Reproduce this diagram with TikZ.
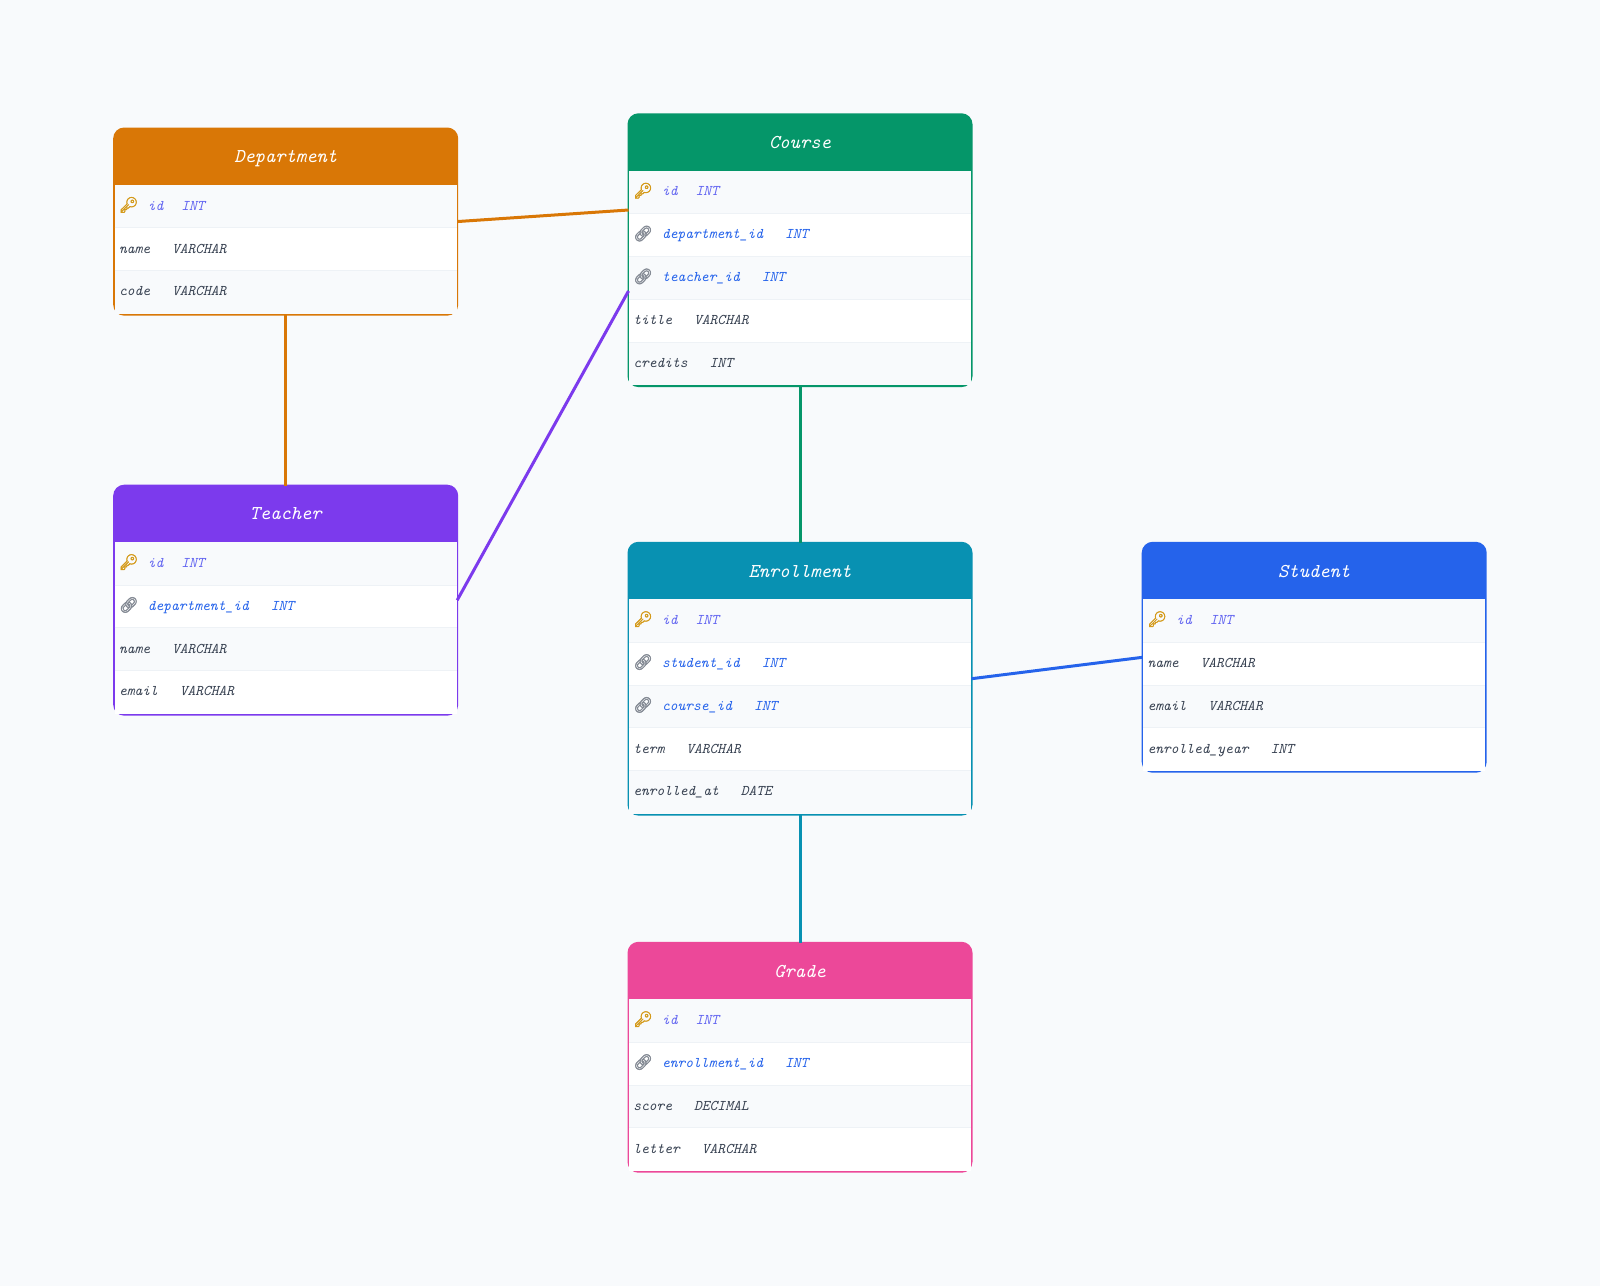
\documentclass[tikz,border=0pt]{standalone}
\usepackage{fontspec}
\usetikzlibrary{positioning}
\newfontfamily\emojifont[FakeBold=2.5]{Noto Emoji}
\definecolor{pagebg}{HTML}{F8FAFC}
\definecolor{rowtint}{HTML}{F8FAFC}
\definecolor{rowline}{HTML}{EEF2F6}
\definecolor{plaintext}{HTML}{374151}
\definecolor{pktext}{HTML}{6366F1}
\definecolor{fktext}{HTML}{2563EB}
\definecolor{keygold}{HTML}{D49A1A}
\definecolor{linkgrey}{HTML}{858B95}
\definecolor{deptcol}{HTML}{D97706}
\definecolor{coursecol}{HTML}{059669}
\definecolor{teachcol}{HTML}{7C3AED}
\definecolor{enrolcol}{HTML}{0891B2}
\definecolor{studcol}{HTML}{2563EB}
\definecolor{gradecol}{HTML}{EC4899}
\newcommand{\pkicon}{{\color{keygold}\fontsize{11.5}{13}\emojifont\symbol{"1F511}}\hspace{7pt}}
\newcommand{\fkicon}{{\color{linkgrey}\fontsize{11.5}{13}\emojifont\symbol{"1F517}}\hspace{7pt}}
\newcommand{\gap}{\hspace{16.5pt}}
\newcommand{\shortgap}{\hspace{13.5pt}}
\tikzset{
  tbl/.style={draw=#1, fill=#1, line width=1.5pt, rounded corners=7.5pt, anchor=north,
    minimum width=257.25pt, inner sep=0pt, outer sep=0pt},
  thead/.style={minimum width=256.5pt, minimum height=42.4pt, inner sep=0pt, outer sep=0pt,
    text=white, text height=10.5pt, text depth=1.5pt,
    font=\ttfamily\itshape\fontsize{14.7}{16}\selectfont\addfontfeature{FakeBold=1.2}},
  rowa/.style={fill=rowtint, minimum width=256.5pt, minimum height=32.15pt,
    text width=250pt, inner xsep=3.25pt, inner ysep=0pt, outer sep=0pt, align=left,
    text=plaintext, text height=8pt, text depth=2.5pt,
    font=\ttfamily\itshape\fontsize{11.1}{13}\selectfont\addfontfeature{FakeBold=0.2}},
  rowb/.style={rowa, fill=white},
  pk/.style={text=pktext},
  fk/.style={text=fktext},
  divider/.style={draw=rowline, line width=0.75pt},
  rel/.style={line width=2.25pt}
}
\begin{document}
\begin{tikzpicture}[x=0.75pt, y=-0.75pt]
  \path [use as bounding box, fill=pagebg] (0, 0) rectangle (1600, 1286);
  % department
  \node (department) [tbl=deptcol, minimum height=139.6pt] at (285.7, 128.5) {};
  \node (department-head) [thead, below=0pt of department.north] {Department};
  \node (department-id) [rowa, pk, below=0pt of department-head] {\pkicon id\shortgap INT};
  \node (department-name) [rowb, below=0pt of department-id] {name\gap VARCHAR};
  \node (department-code) [rowa, below=0pt of department-name] {code\gap VARCHAR};
  \foreach \r in {department-id, department-name}
    \draw [divider] (\r.south west) -- (\r.south east);
  % course
  \node (course) [tbl=coursecol, minimum height=203.85pt] at (800, 114.3) {};
  \node (course-head) [thead, below=0pt of course.north] {Course};
  \node (course-id) [rowa, pk, below=0pt of course-head] {\pkicon id\shortgap INT};
  \node (course-dept) [rowb, fk, below=0pt of course-id] {\fkicon department\_id\gap INT};
  \node (course-teacher) [rowa, fk, below=0pt of course-dept] {\fkicon teacher\_id\gap INT};
  \node (course-title) [rowb, below=0pt of course-teacher] {title\gap VARCHAR};
  \node (course-credits) [rowa, below=0pt of course-title] {credits\gap INT};
  \foreach \r in {course-id, course-dept, course-teacher, course-title}
    \draw [divider] (\r.south west) -- (\r.south east);
  % teacher
  \node (teacher) [tbl=teachcol, minimum height=171.7pt] at (285.7, 485.7) {};
  \node (teacher-head) [thead, below=0pt of teacher.north] {Teacher};
  \node (teacher-id) [rowa, pk, below=0pt of teacher-head] {\pkicon id\shortgap INT};
  \node (teacher-dept) [rowb, fk, below=0pt of teacher-id] {\fkicon department\_id\gap INT};
  \node (teacher-name) [rowa, below=0pt of teacher-dept] {name\gap VARCHAR};
  \node (teacher-email) [rowb, below=0pt of teacher-name] {email\gap VARCHAR};
  \foreach \r in {teacher-id, teacher-dept, teacher-name}
    \draw [divider] (\r.south west) -- (\r.south east);
  % enrollment
  \node (enrollment) [tbl=enrolcol, minimum height=203.85pt] at (800, 542.8) {};
  \node (enrollment-head) [thead, below=0pt of enrollment.north] {Enrollment};
  \node (enrollment-id) [rowa, pk, below=0pt of enrollment-head] {\pkicon id\shortgap INT};
  \node (enrollment-student) [rowb, fk, below=0pt of enrollment-id] {\fkicon student\_id\gap INT};
  \node (enrollment-course) [rowa, fk, below=0pt of enrollment-student] {\fkicon course\_id\gap INT};
  \node (enrollment-term) [rowb, below=0pt of enrollment-course] {term\gap VARCHAR};
  \node (enrollment-at) [rowa, below=0pt of enrollment-term] {enrolled\_at\gap DATE};
  \foreach \r in {enrollment-id, enrollment-student, enrollment-course, enrollment-term}
    \draw [divider] (\r.south west) -- (\r.south east);
  % student
  \node (student) [tbl=studcol, minimum height=171.7pt] at (1314.2, 542.8) {};
  \node (student-head) [thead, below=0pt of student.north] {Student};
  \node (student-id) [rowa, pk, below=0pt of student-head] {\pkicon id\shortgap INT};
  \node (student-name) [rowb, below=0pt of student-id] {name\gap VARCHAR};
  \node (student-email) [rowa, below=0pt of student-name] {email\gap VARCHAR};
  \node (student-year) [rowb, below=0pt of student-email] {enrolled\_year\gap INT};
  \foreach \r in {student-id, student-name, student-email}
    \draw [divider] (\r.south west) -- (\r.south east);
  % grade
  \node (grade) [tbl=gradecol, minimum height=171.7pt] at (800, 942.8) {};
  \node (grade-head) [thead, below=0pt of grade.north] {Grade};
  \node (grade-id) [rowa, pk, below=0pt of grade-head] {\pkicon id\shortgap INT};
  \node (grade-enrollment) [rowb, fk, below=0pt of grade-id] {\fkicon enrollment\_id\gap INT};
  \node (grade-score) [rowa, below=0pt of grade-enrollment] {score\gap DECIMAL};
  \node (grade-letter) [rowb, below=0pt of grade-score] {letter\gap VARCHAR};
  \foreach \r in {grade-id, grade-enrollment, grade-score}
    \draw [divider] (\r.south west) -- (\r.south east);
  % ports
  \coordinate (course-port-a) at (628.5, 210);
  \coordinate (course-port-b) at (628.5, 291);
  % relations
  \draw [rel, deptcol] (department.east) -- (course-port-a);
  \draw [rel, deptcol] (department.south) -- (teacher.north);
  \draw [rel, teachcol] (teacher.east) -- (course-port-b);
  \draw [rel, coursecol] (course.south) -- (enrollment.north);
  \draw [rel, studcol] (enrollment.east) -- (student.west);
  \draw [rel, enrolcol] (enrollment.south) -- (grade.north);
\end{tikzpicture}
\end{document}
